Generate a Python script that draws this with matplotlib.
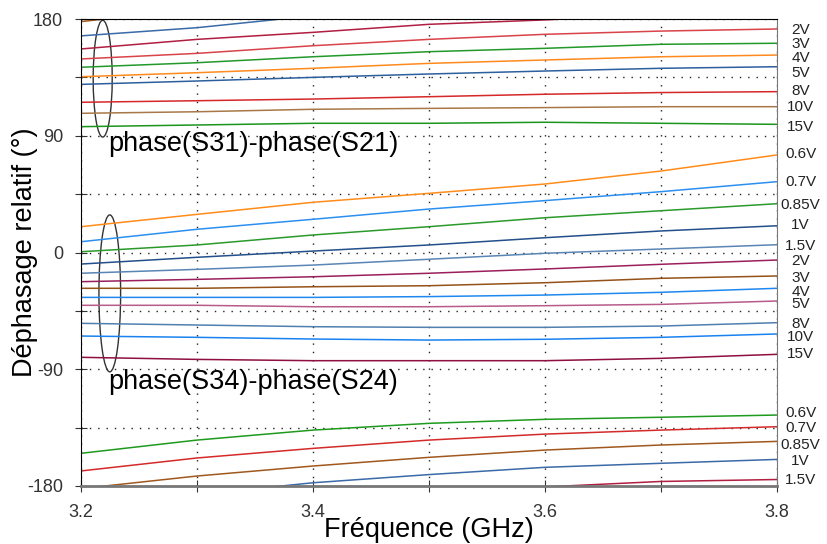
import matplotlib.pyplot as plt
from matplotlib.patches import Ellipse
from matplotlib.transforms import blended_transform_factory
import numpy as np

plt.rcParams['font.family'] = ['Liberation Sans', 'DejaVu Sans']

freq = [3.2, 3.3, 3.4, 3.5, 3.6, 3.7, 3.8]
volts = ['0.6V', '0.7V', '0.85V', '1V', '1.5V', '2V', '3V', '4V', '5V', '8V', '10V', '15V']

# phase(S31)-phase(S21), degrees (unwrapped, low voltages sit below -180)
s31_s21 = [
    [-154.8, -144.6, -136.9, -131.7, -128.6, -127.0, -125.3],
    [-168.4, -158.4, -151.0, -144.6, -140.0, -136.9, -134.3],
    [-182.0, -172.3, -164.6, -157.9, -152.3, -148.4, -145.6],
    [-193.0, -186.7, -177.5, -171.2, -165.6, -162.5, -159.5],
    [-203.1, -195.7, -190.3, -184.1, -180.7, -176.5, -175.0],
    [149.2, 153.5, 159.4, 164.3, 168.2, 170.7, 172.3],
    [142.8, 146.3, 150.9, 154.8, 157.4, 160.5, 161.3],
    [135.5, 138.6, 142.0, 145.8, 148.4, 150.9, 152.2],
    [129.6, 132.2, 135.0, 137.6, 139.9, 142.0, 143.2],
    [115.8, 117.0, 118.3, 120.1, 122.0, 123.3, 124.0],
    [107.3, 108.5, 110.4, 111.1, 111.7, 112.4, 112.4],
    [97.0, 98.3, 99.6, 99.6, 100.4, 99.6, 98.8],
]

# phase(S34)-phase(S24), degrees
s34_s24 = [
    [19.9, 29.4, 38.7, 45.6, 52.8, 62.8, 75.2],
    [8.3, 17.9, 25.6, 33.5, 40.0, 46.9, 54.6],
    [0.6, 5.8, 13.5, 19.9, 26.8, 32.2, 37.6],
    [-8.9, -3.7, 1.1, 5.8, 11.4, 16.6, 20.6],
    [-16.0, -13.0, -9.7, -5.2, -0.6, 2.7, 6.0],
    [-22.5, -20.7, -18.7, -16.0, -12.7, -9.1, -5.8],
    [-27.6, -27.6, -26.4, -25.6, -23.3, -19.9, -18.1],
    [-34.6, -34.6, -34.6, -34.0, -32.8, -30.7, -27.6],
    [-40.7, -40.7, -41.8, -41.8, -41.0, -40.0, -37.4],
    [-54.6, -55.9, -57.2, -57.7, -57.7, -56.7, -54.1],
    [-64.4, -65.4, -66.7, -67.5, -66.9, -65.4, -62.8],
    [-80.8, -82.4, -83.4, -83.4, -83.4, -81.6, -78.5],
]

# where the right-hand voltage labels sit (degrees), spread apart like the original
label_y_31 = [-123.6, -135.2, -148.5, -160.6, -175.0, 171.5, 160.7, 149.9, 138.4, 124.5, 112.2, 96.8]
label_y_34 = [75.9, 54.6, 36.5, 21.1, 4.9, -6.4, -19.7, -30.3, -40.0, -55.2, -65.0, -78.6]

colors_31 = ['#1f9a1f', '#d42a2a', '#a0581e', '#3a6aa8', '#b01e40', '#d9434a',
             '#22992a', '#ff8a1e', '#2c5f9e', '#d62828', '#a87848', '#1c951c']
colors_34 = ['#ff8c1a', '#2b8ff0', '#2a9a2a', '#234f8a', '#5a85b5', '#9a1f5c',
             '#955218', '#1f88f0', '#b85a8a', '#5080b0', '#1a82f0', '#8e0f40']

fig = plt.figure(figsize=(8.27, 5.44), dpi=100)
ax = fig.add_axes([81 / 827, 1 - 486 / 544, 696 / 827, 467 / 544])

lab_tr = blended_transform_factory(ax.transAxes, ax.transData)
for vals, cols, laby in ((s31_s21, colors_31, label_y_31), (s34_s24, colors_34, label_y_34)):
    for name, v, c, ly in zip(volts, vals, cols, laby):
        v = np.array(v)
        # draw with 360 degree copies so the wrap at +-180 is cut by the axes clip
        for shift in (-360, 0, 360):
            ax.plot(freq, v + shift, color=c, lw=1.1)
        ax.text(1.034, ly, name, transform=lab_tr, ha='center',
                va='center', fontsize=11, color='#222222', clip_on=False)

ax.set_xlim(3.2, 3.8)
ax.set_ylim(-180, 180)
ax.set_xticks(np.arange(3.2, 3.81, 0.1))
ax.set_xticklabels(['3.2', '', '3.4', '', '3.6', '', '3.8'])
ax.set_yticks(np.arange(-180, 181, 45))
ax.set_yticklabels(['-180', '', '-90', '', '0', '', '90', '', '180'])
ax.tick_params(direction='inout', length=8, labelsize=13, colors='#333333')
ax.tick_params(axis='y', pad=9)
ax.tick_params(axis='x', pad=9)
ax.grid(True, color='#222222', linestyle=(0, (1, 5)), lw=1)

ax.spines['right'].set_color('#777777')
ax.spines['bottom'].set_color('#777777')
ax.spines['bottom'].set_linewidth(2)

ax.add_patch(Ellipse((3.2187, 134), 0.0164, 90, fill=False, ec='#333333', lw=1))
ax.add_patch(Ellipse((3.2248, -31.5), 0.0187, 121, fill=False, ec='#333333', lw=1))
ax.text(3.2233, 84, 'phase(S31)-phase(S21)', fontsize=19.5, va='center')
ax.text(3.2233, -99.5, 'phase(S34)-phase(S24)', fontsize=19.5, va='center')

ax.set_xlabel('Fréquence (GHz)', fontsize=19.5, labelpad=-3)
ax.set_ylabel('Déphasage relatif (°)', fontsize=19.5, labelpad=-8)

fig.savefig('out.png')
